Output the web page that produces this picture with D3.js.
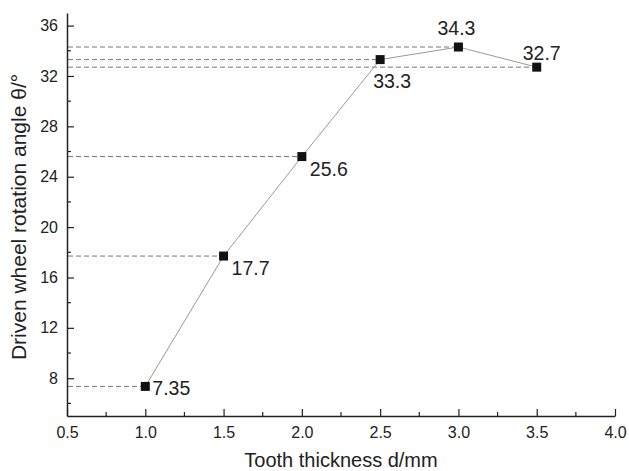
<!DOCTYPE html>
<html>
<head>
<meta charset="utf-8">
<script src="https://cdn.jsdelivr.net/npm/d3@7"></script>
<style>
  body { margin: 0; background: #fff; }
  svg text { font-family: "Liberation Sans", Arial, sans-serif; fill: #222; }
</style>
</head>
<body>
<div id="chart"></div>
<script>
// Data
var thickness = [1.0, 1.5, 2.0, 2.5, 3.0, 3.5];
var angle = [7.35, 17.7, 25.6, 33.3, 34.3, 32.7];
var angleLabels = ['7.35', '17.7', '25.6', '33.3', '34.3', '32.7'];
// where each value label sits relative to its point
var labelPlace = ['right', 'rightBelow', 'rightBelow', 'below', 'above', 'aboveRight'];
var xTicks = [0.5, 1.0, 1.5, 2.0, 2.5, 3.0, 3.5, 4.0];
var yTicks = [8, 12, 16, 20, 24, 28, 32, 36];

var width = 629, height = 471;
var plotLeft = 67, plotRight = 615, plotTop = 13, plotBottom = 416;

var svg = d3.select('#chart').append('svg')
    .attr('width', width)
    .attr('height', height);

var x = d3.scaleLinear().domain([0.5, 4.0]).range([plotLeft, plotRight]);
var y = d3.scaleLinear().domain([5, 37]).range([plotBottom, plotTop]);

// Dashed guide lines from the y axis to each point
svg.selectAll('.guide')
    .data(thickness)
    .enter()
    .append('line')
    .attr('x1', plotLeft + 1)
    .attr('x2', function(d) { return x(d); })
    .attr('y1', function(d, i) { return y(angle[i]); })
    .attr('y2', function(d, i) { return y(angle[i]); })
    .style('stroke', '#777')
    .style('stroke-width', '1px')
    .style('stroke-dasharray', '5,3');

// Connecting line
var line = d3.line()
    .x(function(d) { return x(d); })
    .y(function(d, i) { return y(angle[i]); });

svg.append('path')
    .datum(thickness)
    .attr('d', line)
    .style('fill', 'none')
    .style('stroke', '#999')
    .style('stroke-width', '1px');

// Square markers
svg.selectAll('.marker')
    .data(thickness)
    .enter()
    .append('rect')
    .attr('x', function(d) { return x(d) - 4.5; })
    .attr('y', function(d, i) { return y(angle[i]) - 4.5; })
    .attr('width', 9)
    .attr('height', 9)
    .style('fill', '#111');

// Value labels
var offsets = {
    right: { dx: 7, dy: 8.5, anchor: 'start' },
    rightBelow: { dx: 8, dy: 19, anchor: 'start' },
    below: { dx: 12, dy: 28, anchor: 'middle' },
    above: { dx: -2, dy: -12, anchor: 'middle' },
    aboveRight: { dx: 5, dy: -7, anchor: 'middle' }
};
svg.selectAll('.valueLabel')
    .data(thickness)
    .enter()
    .append('text')
    .attr('x', function(d, i) { return x(d) + offsets[labelPlace[i]].dx; })
    .attr('y', function(d, i) { return y(angle[i]) + offsets[labelPlace[i]].dy; })
    .attr('text-anchor', function(d, i) { return offsets[labelPlace[i]].anchor; })
    .style('font-size', '19.5px')
    .text(function(d, i) { return angleLabels[i]; });

// Axes
var xAxis = d3.axisBottom(x)
    .tickValues(xTicks)
    .tickFormat(d3.format('.1f'))
    .tickSizeInner(-7)
    .tickSizeOuter(0)
    .tickPadding(11);

var gx = svg.append('g')
    .attr('transform', 'translate(0,' + plotBottom + ')')
    .call(xAxis);

var yAxis = d3.axisLeft(y)
    .tickValues(yTicks)
    .tickFormat(d3.format('d'))
    .tickSizeInner(-7)
    .tickSizeOuter(0)
    .tickPadding(9);

var gy = svg.append('g')
    .attr('transform', 'translate(' + plotLeft + ',0)')
    .call(yAxis);

[gx, gy].forEach(function(g) {
    g.select('.domain').style('stroke', '#222').style('stroke-width', '1.5px');
    g.selectAll('.tick line').style('stroke', '#222').style('stroke-width', '1.2px');
    g.selectAll('.tick text')
        .style('font-size', '16px')
        .style('font-family', '"Liberation Sans", Arial, sans-serif')
        .style('fill', '#222');
});

// Minor ticks
var xMinor = d3.range(0.75, 4.0, 0.5);
svg.selectAll('.xminor')
    .data(xMinor)
    .enter()
    .append('line')
    .attr('x1', function(d) { return x(d); })
    .attr('x2', function(d) { return x(d); })
    .attr('y1', plotBottom)
    .attr('y2', plotBottom - 4)
    .style('stroke', '#222')
    .style('stroke-width', '1.2px');

var yMinor = d3.range(6, 37, 4);
svg.selectAll('.yminor')
    .data(yMinor)
    .enter()
    .append('line')
    .attr('x1', plotLeft)
    .attr('x2', plotLeft + 4)
    .attr('y1', function(d) { return y(d); })
    .attr('y2', function(d) { return y(d); })
    .style('stroke', '#222')
    .style('stroke-width', '1.2px');

// Axis titles
svg.append('text')
    .attr('x', 341)
    .attr('y', 467)
    .attr('text-anchor', 'middle')
    .style('font-size', '20px')
    .text('Tooth thickness d/mm');

svg.append('text')
    .attr('transform', 'translate(26,217) rotate(-90)')
    .attr('text-anchor', 'middle')
    .style('font-size', '21px')
    .text('Driven wheel rotation angle \u03b8/\u00b0');
</script>
</body>
</html>
